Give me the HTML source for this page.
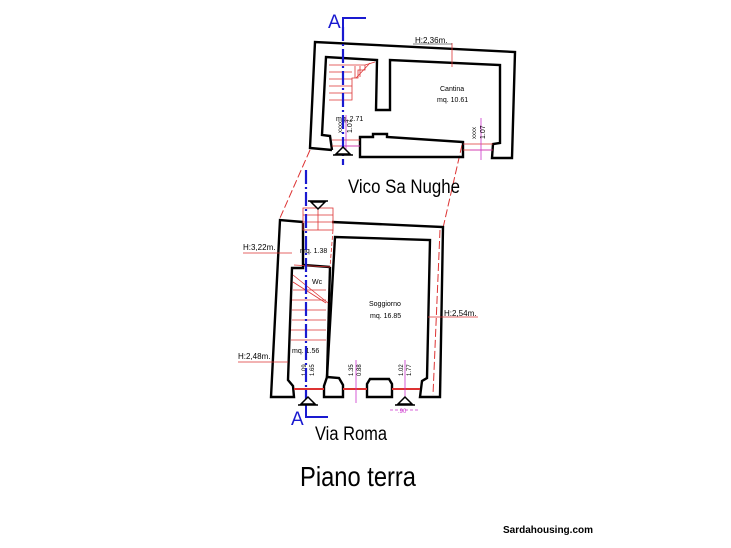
<!DOCTYPE html>
<html><head><meta charset="utf-8"><style>
html,body{margin:0;padding:0;background:#fff;}
svg{display:block;font-family:"Liberation Sans",Arial,sans-serif;}
</style></head><body>
<svg width="731" height="548" viewBox="0 0 731 548" xmlns="http://www.w3.org/2000/svg">
<rect width="731" height="548" fill="#fff"/>
<g stroke="#d33" stroke-width="1" fill="none" stroke-dasharray="8,3">
<line x1="310" y1="150" x2="280" y2="218"/>
<line x1="462" y1="145" x2="443" y2="228"/>
<line x1="440" y1="230" x2="433" y2="395"/>
</g>
<g stroke="#000" stroke-width="2.4" fill="none" stroke-linejoin="miter">
<polyline points="332,150 310,148 315,42 515,52 512,158 492,158 493,144 500,143 500,65 390,60 390,110 376,110 377,60 326,57 322,135 330,136 332,150"/>
<polygon points="360,137 373,137 373,134 387,134 387,137 463,142 463,157 360,157"/>
</g>
<g stroke="#d33" stroke-width="0.8" fill="none">
<polyline points="329,65 365,65 375,62"/>
<polyline points="329,100 352,100 352,78 358,78 358,70 365,70 365,65"/>
<line x1="329" y1="72" x2="352" y2="72"/><line x1="329" y1="79" x2="352" y2="79"/>
<line x1="329" y1="86" x2="352" y2="86"/><line x1="329" y1="93" x2="352" y2="93"/>
<line x1="360" y1="66" x2="360" y2="77"/><line x1="355" y1="66" x2="355" y2="78"/>
<line x1="370" y1="63" x2="356" y2="78"/>
<line x1="332" y1="140" x2="360" y2="140"/><line x1="332" y1="146" x2="360" y2="146"/>
<line x1="463" y1="144" x2="493" y2="144"/><line x1="463" y1="150" x2="493" y2="150"/>
<line x1="452" y1="43" x2="452" y2="67"/>
</g>
<g stroke="#c3c" stroke-width="0.8"><line x1="346" y1="115" x2="346" y2="155"/><line x1="481" y1="118" x2="481" y2="160"/><line x1="340" y1="146" x2="360" y2="146"/><line x1="470" y1="150" x2="492" y2="150"/></g>
<line x1="413" y1="44" x2="452" y2="44" stroke="#000" stroke-width="0.6"/>
<text x="415" y="43" font-size="8">H:2,36m.</text>
<text x="440" y="91" font-size="7">Cantina</text>
<text x="437" y="102" font-size="7">mq. 10.61</text>
<text x="336" y="121" font-size="7">mq. 2.71</text>
<text font-size="6" transform="translate(342,133) rotate(-90)">xxxx</text>
<text font-size="7" transform="translate(352,133) rotate(-90)">1.07</text>
<text font-size="6" transform="translate(476,139) rotate(-90)">xxxx</text>
<text font-size="7" transform="translate(485,139) rotate(-90)">1.07</text>
<text x="348" y="193" font-size="19" textLength="112" lengthAdjust="spacingAndGlyphs">Vico Sa Nughe</text>
<g stroke="#000" stroke-width="2.4" fill="none">
<polyline points="303,222 280,220 271,397 294,397 293,386 288,380 292,268 303,268 303,223"/>
<polyline points="332,222 443,227 440,397 420,397 422,381 427,378 430,240 335,237 327,377 339,378 343,385 343,397 324,397 324,386 327,377"/>
<polyline points="330,267 303,265"/>
<polyline points="330,267 327,377"/>
<polygon points="367,397 367,384 370,379 389,379 392,384 392,397"/>
</g>
<g stroke="#d33" stroke-width="0.8" fill="none">
<rect x="303" y="208" width="30" height="22"/>
<line x1="303" y1="215" x2="333" y2="215"/><line x1="303" y1="222" x2="333" y2="222"/>
<line x1="318" y1="208" x2="318" y2="230"/>
<line x1="293" y1="275" x2="328" y2="303"/><line x1="293" y1="282" x2="326" y2="303"/>
<line x1="293" y1="290" x2="326" y2="290"/><line x1="292" y1="300" x2="326" y2="300"/>
<line x1="292" y1="310" x2="326" y2="310"/><line x1="292" y1="320" x2="326" y2="320"/>
<line x1="291" y1="330" x2="326" y2="330"/><line x1="291" y1="340" x2="326" y2="340"/>
<line x1="294" y1="265" x2="330" y2="267"/>
<line x1="333" y1="230" x2="330" y2="267" stroke-dasharray="4,2"/>
<line x1="294" y1="389" x2="324" y2="389" stroke-width="2"/>
<line x1="343" y1="389" x2="367" y2="389" stroke-width="2"/>
<line x1="392" y1="389" x2="420" y2="389" stroke-width="2"/>
<line x1="243" y1="253" x2="292" y2="253"/>
<line x1="238" y1="362" x2="288" y2="362"/>
<line x1="428" y1="317" x2="478" y2="317"/>
</g>
<g stroke="#c3c" stroke-width="0.8"><line x1="356" y1="360" x2="356" y2="403"/><line x1="405" y1="360" x2="405" y2="405"/><line x1="390" y1="410" x2="420" y2="410" stroke-dasharray="3,2"/></g>
<text x="243" y="250" font-size="8">H:3,22m.</text>
<text x="300" y="253" font-size="7">mq. 1.38</text>
<text x="312" y="284" font-size="7">Wc</text>
<text x="369" y="306" font-size="7">Soggiorno</text>
<text x="370" y="318" font-size="7">mq. 16.85</text>
<text x="444" y="316" font-size="8">H:2,54m.</text>
<text x="238" y="359" font-size="8">H:2,48m.</text>
<text x="292" y="353" font-size="7">mq. 1.56</text>
<text font-size="6" transform="translate(306,376) rotate(-90)">1.09</text>
<text font-size="6" transform="translate(314,376) rotate(-90)">1.65</text>
<text font-size="6" transform="translate(353,376) rotate(-90)">1.35</text>
<text font-size="6" transform="translate(361,376) rotate(-90)">0.88</text>
<text font-size="6" transform="translate(403,376) rotate(-90)">1.02</text>
<text font-size="6" transform="translate(411,376) rotate(-90)">1.77</text>
<text x="398" y="413" font-size="6" fill="#c3c">.90</text>
<g stroke="#1a1ad0" stroke-width="2.2" fill="none" stroke-dasharray="14,3,2,3">
<line x1="343" y1="27" x2="343" y2="165"/>
<line x1="306" y1="170" x2="306" y2="405"/>
</g>
<g stroke="#1a1ad0" stroke-width="2" fill="none">
<polyline points="343,28 343,18 366,18"/>
<polyline points="306,402 306,417 328,417"/>
</g>
<text x="328" y="28" font-size="19" fill="#1a1ad0">A</text>
<text x="291" y="425" font-size="19" fill="#1a1ad0">A</text>
<g stroke="#000" stroke-width="1.5" fill="#fff">
<polygon points="343,147 336,154 350,154"/><line x1="333" y1="155" x2="353" y2="155"/>
<polygon points="318,209 311,202 325,202"/><line x1="308" y1="201" x2="328" y2="201"/>
<polygon points="308,397 301,404 315,404"/><line x1="298" y1="405" x2="318" y2="405"/>
<polygon points="405,397 398,404 412,404"/><line x1="395" y1="405" x2="415" y2="405"/>
</g>
<text x="315" y="440" font-size="19" textLength="72" lengthAdjust="spacingAndGlyphs">Via Roma</text>
<text x="300" y="486" font-size="28" textLength="116" lengthAdjust="spacingAndGlyphs">Piano terra</text>
<text x="503" y="533" font-size="10" font-weight="bold" textLength="90" lengthAdjust="spacingAndGlyphs">Sardahousing.com</text>
</svg>
</body></html>
